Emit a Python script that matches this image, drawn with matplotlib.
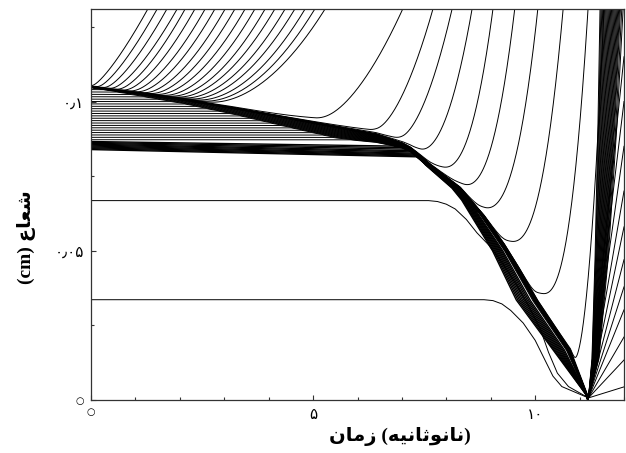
import numpy as np
import matplotlib
matplotlib.use("Agg")
import matplotlib.pyplot as plt
from matplotlib.ticker import FixedLocator, MultipleLocator

# ---------------- axis settings ----------------
X_MAX = 12.0
Y_MAX = 0.131
X_TICKS = [0, 5, 10]
X_TICK_LABELS = ["○", "۵", "۱۰"]
Y_TICKS = [0.0, 0.05, 0.1]
Y_TICK_LABELS = ["○", "۰٫۰۵", "۰٫۱"]

# ---------------- read values ----------------
# outer (upper/right) edge of the dense shell: slow push, then implosion front
EDGE_T = [0.0, 2.1, 3.2, 4.4, 5.5, 6.4, 7.0, 7.18, 7.35, 7.63, 8.31, 8.83, 9.28, 9.59,
          10.04, 10.79, 11.20]
EDGE_R = [0.1047, 0.1005, 0.0978, 0.0945, 0.0915, 0.0890, 0.0860, 0.0846, 0.0826, 0.0789,
          0.0711, 0.0621, 0.0527, 0.0453, 0.0336, 0.0168, 0.0007]

# centre of imploding band (time at given radius) and its half width in time
CORE_R = [0.0846, 0.0826, 0.0789, 0.0711, 0.0671, 0.0503, 0.0336, 0.0168, 0.0007]
CORE_T = [7.18, 7.34, 7.58, 8.22, 8.46, 9.20, 9.80, 10.59, 11.20]
CORE_HALF = [0.0, 0.02, 0.06, 0.10, 0.12, 0.17, 0.23, 0.19, 0.0]

# compression of shells swept up by the edge
COMP_T = [0.0, 5.5, 6.4, 7.18]
COMP_C = [0.25, 0.22, 0.15, 0.06]

# shells initially between dense layer and outer edge
INNER_R0 = [0.1040, 0.1032, 0.1024, 0.1016, 0.1008, 0.1000, 0.0992, 0.0984, 0.0976, 0.0968,
            0.0960, 0.0952, 0.0944, 0.0936, 0.0928, 0.0920, 0.0912, 0.0904, 0.0896, 0.0888,
            0.0880, 0.0872]
INNER_SPREAD = [1.0, 1.0, 0.98, 0.97, 0.96, 0.95, 0.94, 0.93, 0.92, 0.91, 0.90, 0.89,
                0.88, 0.86, 0.84, 0.82, 0.80, 0.77, 0.74, 0.70, 0.65, 0.58]

# dense layer shells
DENSE_R0 = [0.0839, 0.0842, 0.0845, 0.0848, 0.0851, 0.0854, 0.0857, 0.0860, 0.0863, 0.0866]
DENSE_R_END = [0.0815, 0.0818, 0.0821, 0.0824, 0.0827, 0.0831, 0.0835, 0.0840, 0.0845, 0.0850]
DENSE_T_END = 7.3
DENSE_SPREAD = [-1.0, -0.85, -0.7, -0.55, -0.4, -0.25, -0.1, 0.05, 0.2, 0.35]

# ablated shells leaving the edge, early group: departure time, time at top, curvature
FAN_T0 = [0.0, 0.14, 0.29, 0.43, 0.58, 0.72, 0.87, 1.01, 1.16, 1.30, 1.44, 1.59, 1.73,
          1.88, 2.02, 2.17, 2.31, 2.46, 2.60]
FAN_TTOP = [1.28, 1.49, 1.71, 1.94, 2.12, 2.34, 2.57, 2.79, 3.02, 3.24, 3.47, 3.69, 3.92,
            4.14, 4.37, 4.59, 4.82, 5.04, 5.27]
FAN_POW = [1.3, 1.35, 1.4, 1.45, 1.5, 1.55, 1.6, 1.65, 1.7, 1.75, 1.8, 1.85, 1.9,
           1.9, 1.95, 1.95, 2.0, 2.0, 2.0]

# late group: start of rise, radius at the turning point, time at top, curvature
PEEL_T0 = [5.05, 6.25, 6.80, 7.40, 7.90, 8.40, 8.85, 9.45, 10.15, 10.85]
PEEL_RMIN = [0.0933, 0.0889, 0.0862, 0.0832, 0.0772, 0.0715, 0.0638, 0.0527, 0.0352, 0.0124]
PEEL_TTOP = [7.02, 7.70, 8.13, 8.58, 9.05, 9.54, 10.06, 10.63, 11.19, 11.55]
PEEL_POW = [1.7, 1.8, 1.9, 2.1, 2.4, 2.4, 2.5, 2.5, 2.6, 2.0]

# two inner shells
L1_T = [0.0, 7.60, 7.80, 8.00, 8.20, 8.45, 8.69, 8.95, 9.21, 9.50, 9.80, 10.11, 10.30,
        10.50, 10.75, 11.20]
L1_R = [0.0668, 0.0668, 0.0665, 0.0656, 0.0640, 0.0605, 0.0560, 0.0520, 0.0470, 0.0405,
        0.0330, 0.0240, 0.0160, 0.0090, 0.0045, 0.0007]
L2_T = [0.0, 8.85, 9.05, 9.25, 9.45, 9.73, 10.00, 10.20, 10.40, 10.60, 11.20]
L2_R = [0.0336, 0.0336, 0.0333, 0.0322, 0.0300, 0.0258, 0.0200, 0.0140, 0.0080, 0.0045, 0.0007]

# stagnation point and rebound
VERTEX_T = 11.20
VERTEX_R = 0.0007
REB_TOP_T = [11.46, 11.48, 11.50, 11.52, 11.54, 11.56, 11.58, 11.60, 11.62, 11.64, 11.66,
             11.68, 11.70, 11.72, 11.74, 11.76, 11.78, 11.80, 11.82, 11.84, 11.86, 11.88,
             11.90, 11.92, 11.95, 11.98]
REB_SHAPE_R = [0.0, 0.1, 0.36, 0.7, 1.0]
REB_SHAPE_F = [0.0, 0.3, 0.57, 0.82, 1.0]
REB_EDGE_R = [0.0044, 0.0134, 0.0211, 0.0302, 0.0379, 0.047, 0.058, 0.070, 0.085, 0.100, 0.115]

X_LABEL = "\uFEE5\uFE8E\uFEE3\uFEAF (\uFEEA\uFEF4\uFEE7\uFE8E\uFE9B\uFEEE\uFEE7\uFE8E\uFEE7)"
Y_LABEL = "(cm) \uFEC9\uFE8E\uFECC\uFEB7"

# ---------------- figure ----------------
fig = plt.figure(figsize=(6.26, 4.53), dpi=100)
ax = fig.add_axes([91 / 626, 1 - 400 / 453, 533 / 626, 391 / 453])
LW = 0.7
COL = "black"

T = np.linspace(0.0, X_MAX, 2401)
edge = np.interp(T, EDGE_T, EDGE_R)
comp = np.interp(T, COMP_T, COMP_C)


def smax(a, b, k):
    return 0.5 * (a + b + np.sqrt((a - b) ** 2 + k ** 2))


def band_track(s):
    tt = np.array(CORE_T) + s * np.array(CORE_HALF)
    return np.interp(T, tt, CORE_R, left=1.0)


def peel(t0, rmin, ttop, p, k):
    f = np.clip((T - t0) / (ttop - t0), 0.0, None)
    u = rmin + (Y_MAX - rmin) * f ** p
    r = smax(edge, u, k)
    m = T <= ttop + 0.05
    ax.plot(T[m], r[m], color=COL, lw=LW)


keep = T <= VERTEX_T

# inner shells
for r0, s in zip(INNER_R0, INNER_SPREAD):
    pre = np.minimum(r0, edge - comp * (EDGE_R[0] - r0))
    r = np.minimum(pre, band_track(s))
    ax.plot(T[keep], r[keep], color=COL, lw=LW)

# dense layer
for r0, r1, s in zip(DENSE_R0, DENSE_R_END, DENSE_SPREAD):
    drift = np.interp(T, [0.0, DENSE_T_END], [r0, r1])
    pre = np.minimum(drift, edge - comp * (EDGE_R[0] - r0))
    r = np.minimum(pre, band_track(s))
    ax.plot(T[keep], r[keep], color=COL, lw=1.0)

# outer edge itself
ax.plot(T[keep], edge[keep], color=COL, lw=1.1)

# ablated shells
for t0, ttop, p in zip(FAN_T0, FAN_TTOP, FAN_POW):
    peel(t0, float(np.interp(t0, EDGE_T, EDGE_R)), ttop, p, 0.0012)
for t0, rmin, ttop, p in zip(PEEL_T0, PEEL_RMIN, PEEL_TTOP, PEEL_POW):
    peel(t0, rmin, ttop, p, 0.003)

# inner shells
ax.plot(L1_T, L1_R, color=COL, lw=LW)
ax.plot(L2_T, L2_R, color=COL, lw=LW)

# rebound
for tt in REB_TOP_T:
    xs = [VERTEX_T + (tt - VERTEX_T) * f for f in REB_SHAPE_F]
    ys = [VERTEX_R + (Y_MAX - VERTEX_R) * f for f in REB_SHAPE_R]
    ax.plot(xs, ys, color=COL, lw=LW)
for re in REB_EDGE_R:
    ax.plot([VERTEX_T, X_MAX], [VERTEX_R, re], color=COL, lw=LW)

# ---------------- axes styling ----------------
ax.set_xlim(0, X_MAX)
ax.set_ylim(0, Y_MAX)
for sp in ax.spines.values():
    sp.set_linewidth(0.9)
    sp.set_color("#333333")
ax.xaxis.set_major_locator(FixedLocator(X_TICKS))
ax.yaxis.set_major_locator(FixedLocator(Y_TICKS))
ax.xaxis.set_minor_locator(MultipleLocator(1))
ax.yaxis.set_minor_locator(MultipleLocator(0.025))
ax.set_xticklabels(X_TICK_LABELS)
ax.set_yticklabels(Y_TICK_LABELS)
ax.tick_params(which="both", direction="in", top=False, right=False, color="#333333", width=0.8)
ax.tick_params(which="major", length=3.5, labelsize=11, pad=5)
ax.tick_params(which="minor", length=2)
for lab in ax.get_xticklabels() + ax.get_yticklabels():
    lab.set_family(["DejaVu Sans"])
ax.get_xticklabels()[0].set_fontsize(7)
ax.get_yticklabels()[0].set_fontsize(7)

ax.set_xlabel(X_LABEL, fontsize=14, fontweight="bold", family=["Liberation Serif", "DejaVu Sans"])
ax.set_ylabel(Y_LABEL, fontsize=14, fontweight="bold", family=["Liberation Serif", "DejaVu Sans"])
ax.xaxis.set_label_coords((400 - 91) / 533, (400 - 437) / 391)
ax.xaxis.label.set_va("center")
ax.yaxis.set_label_coords((27 - 91) / 533, (400 - 237) / 391)
ax.yaxis.label.set_va("center")

fig.savefig("out.png", dpi=100)
